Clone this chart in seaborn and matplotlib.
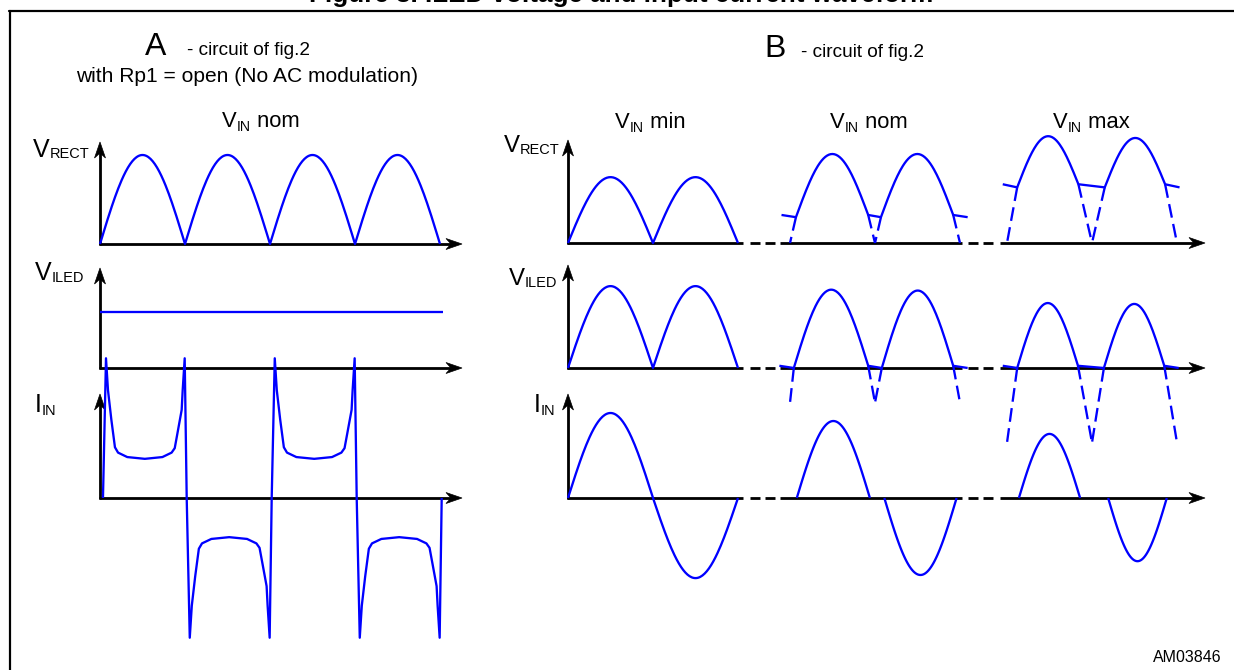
import numpy as np
import matplotlib
matplotlib.use("Agg")
import matplotlib.pyplot as plt
import seaborn as sns
from matplotlib.patches import Polygon

sns.set_theme(style="white")
plt.rcParams["font.family"] = ["Liberation Sans", "DejaVu Sans"]

# ------------------------------------------------------------------
# Waveform data: time in ms (10 ms per mains half-cycle),
# amplitude in arbitrary units (1.0 = nominal rectified peak)
# ------------------------------------------------------------------
# A: V_IN nom, Rp1 open
A_RECT_ZEROS = [0.0, 10.0, 20.0, 30.0, 40.0]
A_RECT_PEAK = 1.0
A_ILED_LEVEL = 0.63
A_ILED_SPAN = [0.0, 40.3]
A_IIN_ZEROS = [0.35, 10.2, 20.2, 30.2, 40.2]
A_IIN_SHAPE_T = [0.0, 0.036, 0.06, 0.10, 0.143, 0.18, 0.29, 0.50,
                 0.71, 0.82, 0.857, 0.89, 0.94, 0.952, 0.976, 1.0]
A_IIN_SHAPE_V = [0.0, 1.57, 1.21, 0.88, 0.57, 0.51, 0.46, 0.44,
                 0.46, 0.51, 0.56, 0.73, 0.99, 1.21, 1.57, 0.0]

# B: V_IN min / nom / max
B_ZEROS = [0.0, 10.0, 20.0]
MIN_RECT_PEAK = 0.74
MIN_ILED_PEAK = 0.92
MIN_IIN_PEAKS = [0.955, -0.90]

NOM_RECT_PEAKS = [1.0, 1.0]
NOM_RECT_LEVEL = 0.315
NOM_RECT_DROOP = 0.025
NOM_RECT_ON = [[0.7, 9.2], [10.7, 19.2]]
NOM_ILED_PEAKS = [0.88, 0.87]
NOM_ILED_DIP = 0.39
NOM_ILED_ON = [[0.45, 9.2], [10.8, 19.2]]
NOM_IIN_PEAKS = [0.865, -0.865]
NOM_IIN_ON = [[0.8, 9.4], [11.1, 19.6]]

MAX_RECT_PEAKS = [1.20, 1.18]
MAX_RECT_LEVEL = 0.66
MAX_RECT_DROOP = 0.035
MAX_RECT_ON = [[1.2, 8.4], [11.5, 18.6]]
MAX_ILED_PEAKS = [0.73, 0.72]
MAX_ILED_DIP = 0.84
MAX_ILED_ON = [[1.2, 8.35], [11.4, 18.5]]
MAX_IIN_PEAKS = [0.72, -0.71]
MAX_IIN_ON = [[1.4, 8.6], [11.9, 18.8]]

HOLD_MS = 1.7
ILED_DROOP = 0.025

# ------------------------------------------------------------------
# Layout (pixels) and styles
# ------------------------------------------------------------------
W, H, DPI = 1234, 670, 100
PX = 72.0 / DPI                 # points per pixel
PX_PER_MS = 8.5
PX_PER_UNIT = 89.0
A_X0 = 100
B_X0 = [568, 790, 1007]
A_BASE = [244, 368, 498]
B_BASE = [243, 368, 498]
A_TIPS = [142, 268, 394]
B_TIPS = [140, 265, 394]
A_XTIP = 462
B_XTIP = 1205
B_SOLID = [[568, 743], [780, 962], [1000, B_XTIP]]
B_DASHED = [[750, 775], [968, 993]]
BLUE = "#0000ff"
WAVE_LW = 2.3 * PX
AXIS_LW = 2.8 * PX
DASH = (0, (6.0, 2.8))

fig = plt.figure(figsize=(W / DPI, H / DPI), dpi=DPI)
fig.patch.set_facecolor("white")

deco = fig.add_axes([0, 0, 1, 1], zorder=1)
deco.set_xlim(0, W)
deco.set_ylim(H, 0)
deco.axis("off")


def wave_axes(x0, y0):
    ax = fig.add_axes([0, 0, 1, 1], zorder=3)
    ax.set_xlim(-x0 / PX_PER_MS, (W - x0) / PX_PER_MS)
    ax.set_ylim((y0 - H) / PX_PER_UNIT, y0 / PX_PER_UNIT)
    ax.axis("off")
    ax.patch.set_alpha(0)
    return ax


def trace(ax, t, v, dashed=False):
    sns.lineplot(x=np.asarray(t, float), y=np.asarray(v, float), ax=ax,
                 color=BLUE, linewidth=WAVE_LW, estimator=None, sort=False,
                 legend=False, linestyle=DASH if dashed else "-",
                 solid_capstyle="butt", dash_capstyle="butt",
                 solid_joinstyle="round")


def arch(a, b, base_a, base_b, peak, n=80):
    t = np.linspace(a, b, n)
    u = (t - a) / (b - a)
    base = base_a + (base_b - base_a) * u
    mid = 0.5 * (base_a + base_b)
    return t, base + (peak - mid) * np.sin(np.pi * u)


# ---------------- axes, arrows, frame ----------------
def head(x, y, direction):
    L, w, notch = 16, 5.5, 11
    if direction == "right":
        pts = [(x, y), (x - L, y - w), (x - notch, y), (x - L, y + w)]
    else:
        pts = [(x, y), (x - w, y + L), (x, y + notch), (x + w, y + L)]
    deco.add_patch(Polygon(pts, closed=True, facecolor="black",
                           edgecolor="black", linewidth=0.5))


def hline(x1, x2, y, dashed=False):
    deco.plot([x1, x2], [y, y], color="black", lw=AXIS_LW,
              solid_capstyle="butt", dash_capstyle="butt",
              linestyle=(0, (10 / 2.8, 5 / 2.8)) if dashed else "-")


def vline(x, y1, y2):
    deco.plot([x, x], [y1, y2], color="black", lw=AXIS_LW,
              solid_capstyle="butt")


for base, tip in zip(A_BASE, A_TIPS):
    vline(A_X0, base + 1, tip + 10)
    head(A_X0, tip, "up")
    hline(A_X0 - 1, A_XTIP - 10, base)
    head(A_XTIP, base, "right")

for base, tip in zip(B_BASE, B_TIPS):
    vline(B_X0[0], base + 1, tip + 10)
    head(B_X0[0], tip, "up")
    for x1, x2 in B_SOLID:
        hline(x1 - (1 if x1 == B_X0[0] else 0),
              x2 - (10 if x2 == B_XTIP else 0), base)
    for x1, x2 in B_DASHED:
        hline(x1, x2, base, dashed=True)
    head(B_XTIP, base, "right")

deco.plot([10, 10], [11, H + 5], color="black", lw=2.2 * PX, clip_on=False)
deco.plot([9, W + 5], [11, 11], color="black", lw=2.2 * PX, clip_on=False)

# ---------------- text ----------------
renderer = fig.canvas.get_renderer()


def put(s, x, y, px, ha="left", weight="normal"):
    return deco.text(x, y, s, fontsize=px * PX, ha=ha, va="baseline",
                     color="black", fontweight=weight, clip_on=False)


def right_edge(t):
    bb = t.get_window_extent(renderer)
    return bb.x1


def sub_label(x, y, main, sub, main_px, sub_px, drop, suffix=None):
    t = put(main, x, y, main_px)
    xs = right_edge(t)
    s = put(sub, xs, y + drop, sub_px)
    if suffix:
        put(" " + suffix, right_edge(s), y, main_px)


put("Figure 3. ILED voltage and input current waveform", 621, 2, 26,
    ha="center", weight="bold")

put("A", 156, 55, 32, ha="center")
put("- circuit of fig.2", 187, 55, 19)
put("with Rp1 = open (No AC modulation)", 247, 82, 21, ha="center")
put("B", 775, 57, 32, ha="center")
put("- circuit of fig.2", 801, 57, 19)

sub_label(222, 127, "V", "IN", 22, 14, 4, "nom")
sub_label(615, 128, "V", "IN", 22, 14, 4, "min")
sub_label(830, 128, "V", "IN", 22, 14, 4, "nom")
sub_label(1053, 128, "V", "IN", 22, 14, 4, "max")

sub_label(33, 157, "V", "RECT", 25, 14.5, 1)
sub_label(35, 280, "V", "ILED", 25, 14.5, 2)
sub_label(35, 412, "I", "IN", 25, 14.5, 3)
sub_label(504, 152, "V", "RECT", 24, 14.5, 2)
sub_label(509, 285, "V", "ILED", 24, 14.5, 2)
sub_label(534, 412, "I", "IN", 25, 14.5, 3)

put("AM03846", 1222, 662, 16, ha="right")

# ---------------- waveforms: panel A ----------------
ax = wave_axes(A_X0, A_BASE[0])
ts, vs = [], []
for z0, z1 in zip(A_RECT_ZEROS[:-1], A_RECT_ZEROS[1:]):
    t, v = arch(z0, z1, 0, 0, A_RECT_PEAK)
    ts.append(t); vs.append(v)
trace(ax, np.concatenate(ts), np.concatenate(vs))

ax = wave_axes(A_X0, A_BASE[1])
trace(ax, A_ILED_SPAN, [A_ILED_LEVEL, A_ILED_LEVEL])

ax = wave_axes(A_X0, A_BASE[2])
ts, vs = [], []
shape_t = np.array(A_IIN_SHAPE_T)
shape_v = np.array(A_IIN_SHAPE_V)
for k, (z0, z1) in enumerate(zip(A_IIN_ZEROS[:-1], A_IIN_ZEROS[1:])):
    sign = 1 if k % 2 == 0 else -1
    t = z0 + shape_t * (z1 - z0)
    v = sign * shape_v
    if k > 0:
        t, v = t[1:], v[1:]
    ts.append(t); vs.append(v)
trace(ax, np.concatenate(ts), np.concatenate(vs))

# ---------------- waveforms: panel B, V_IN min ----------------
z = B_ZEROS
ax = wave_axes(B_X0[0], B_BASE[0])
t1, v1 = arch(z[0], z[1], 0, 0, MIN_RECT_PEAK)
t2, v2 = arch(z[1], z[2], 0, 0, MIN_RECT_PEAK)
trace(ax, np.r_[t1, t2], np.r_[v1, v2])

ax = wave_axes(B_X0[0], B_BASE[1])
t1, v1 = arch(z[0], z[1], 0, 0, MIN_ILED_PEAK)
t2, v2 = arch(z[1], z[2], 0, 0, MIN_ILED_PEAK)
trace(ax, np.r_[t1, t2], np.r_[v1, v2])

ax = wave_axes(B_X0[0], B_BASE[2])
t1, v1 = arch(z[0], z[1], 0, 0, MIN_IIN_PEAKS[0])
t2, v2 = arch(z[1], z[2], 0, 0, MIN_IIN_PEAKS[1])
trace(ax, np.r_[t1, t2], np.r_[v1, v2])


# ---------------- waveforms: panel B, clipped cases ----------------
def clipped_rect(ax, on, peaks, level, droop):
    (a1, b1), (a2, b2) = on
    lo = level - droop
    ta, va = arch(a1, b1, lo, level, peaks[0])
    tb, vb = arch(a2, b2, lo, level, peaks[1])
    t = np.r_[a1 - HOLD_MS, ta, tb, b2 + HOLD_MS]
    v = np.r_[level, va, vb, lo]
    trace(ax, t, v)
    trace(ax, [a1, z[0]], [lo, 0], dashed=True)
    trace(ax, [b1, z[1]], [level, 0], dashed=True)
    trace(ax, [a2, z[1]], [lo, 0], dashed=True)
    trace(ax, [b2, z[2]], [level, 0], dashed=True)


def clipped_iled(ax, on, peaks, dip):
    (a1, b1), (a2, b2) = on
    d = ILED_DROOP
    ta, va = arch(a1, b1, 0, d, peaks[0])
    tb, vb = arch(a2, b2, 0, d, peaks[1])
    t = np.r_[a1 - HOLD_MS, ta, tb, b2 + HOLD_MS]
    v = np.r_[d, va, vb, 0]
    trace(ax, t, v)
    trace(ax, [a1, z[0]], [0, -dip], dashed=True)
    trace(ax, [b1, z[1]], [d, -dip], dashed=True)
    trace(ax, [a2, z[1]], [0, -dip], dashed=True)
    trace(ax, [b2, z[2]], [d, -dip], dashed=True)


def input_current(ax, on, peaks):
    for (a, b), p in zip(on, peaks):
        t, v = arch(a, b, 0, 0, p)
        trace(ax, t, v)


groups = [
    (B_X0[1], NOM_RECT_ON, NOM_RECT_PEAKS, NOM_RECT_LEVEL, NOM_RECT_DROOP,
     NOM_ILED_ON, NOM_ILED_PEAKS, NOM_ILED_DIP, NOM_IIN_ON, NOM_IIN_PEAKS),
    (B_X0[2], MAX_RECT_ON, MAX_RECT_PEAKS, MAX_RECT_LEVEL, MAX_RECT_DROOP,
     MAX_ILED_ON, MAX_ILED_PEAKS, MAX_ILED_DIP, MAX_IIN_ON, MAX_IIN_PEAKS),
]
for (x0, r_on, r_pk, r_lv, r_dr, l_on, l_pk, l_dip, i_on, i_pk) in groups:
    clipped_rect(wave_axes(x0, B_BASE[0]), r_on, r_pk, r_lv, r_dr)
    clipped_iled(wave_axes(x0, B_BASE[1]), l_on, l_pk, l_dip)
    input_current(wave_axes(x0, B_BASE[2]), i_on, i_pk)

fig.savefig("out.png", dpi=DPI, facecolor="white")
